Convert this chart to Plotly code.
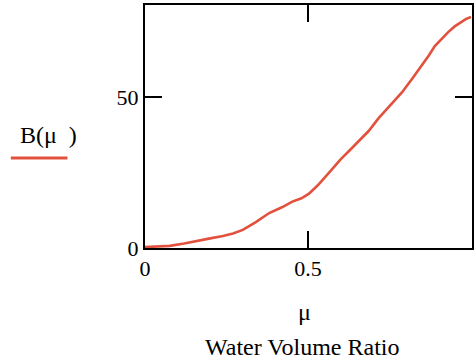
import plotly.graph_objects as go

# Water volume ratio (mu) and the resulting B(mu)
mu = [0, 0.03, 0.076, 0.12, 0.158, 0.2, 0.239, 0.27, 0.30, 0.34, 0.381, 0.42,
      0.452, 0.48, 0.503, 0.53, 0.564, 0.6, 0.625, 0.66, 0.686, 0.716, 0.75,
      0.788, 0.82, 0.849, 0.87, 0.889, 0.91, 0.93, 0.95, 0.97, 0.985, 1.0]
B = [0.3, 0.4, 0.7, 1.5, 2.4, 3.2, 4.0, 4.8, 6.0, 8.6, 11.6, 13.5,
     15.4, 16.5, 18.0, 20.8, 24.9, 29.4, 32.1, 36.0, 38.8, 43.0, 47.2,
     51.6, 56.2, 60.4, 63.8, 67.0, 69.4, 71.6, 73.5, 75.0, 76.0, 76.6]

x_ticks = [0, 0.5, 1]
x_tick_text = ["0", "0.5", "1"]
y_ticks = [0, 50]
y_tick_text = ["0", "50"]

RED = "#e2513e"
FONT = "Liberation Serif"

W, H = 475, 360
L, R, T, Bm = 145, 1, 5, 112
pw, ph = W - L - R, H - T - Bm


def px(xp):
    return (xp - L) / pw


def py(yp):
    return (H - Bm - yp) / ph


fig = go.Figure()
fig.add_trace(go.Scatter(x=mu, y=B, mode="lines",
                         line=dict(color=RED, width=2.6), showlegend=False))

axis_common = dict(showline=True, linecolor="black", linewidth=2, mirror="ticks",
                   ticks="inside", ticklen=17, tickwidth=2, tickcolor="black",
                   showgrid=False, zeroline=False,
                   tickfont=dict(family=FONT, size=22, color="black"))

fig.update_xaxes(range=[0, 1.003], tickvals=x_ticks, ticktext=x_tick_text, **axis_common)
fig.update_yaxes(range=[0, 80.6], tickvals=y_ticks, ticktext=y_tick_text, **axis_common)

label_font = dict(family=FONT, size=24, color="black")
fig.add_annotation(text="μ", x=px(305), y=py(312), xref="paper", yref="paper",
                   xanchor="center", yanchor="middle", showarrow=False, font=label_font)
fig.add_annotation(text="Water Volume Ratio", x=px(303), y=py(347), xref="paper",
                   yref="paper", xanchor="center", yanchor="middle", showarrow=False,
                   font=label_font)
fig.add_annotation(text="B(μ  )", x=px(48), y=py(135), xref="paper", yref="paper",
                   xanchor="center", yanchor="middle", showarrow=False, font=label_font)
fig.add_shape(type="line", xref="paper", yref="paper",
              x0=px(10), x1=px(67), y0=py(158), y1=py(158),
              line=dict(color=RED, width=3))

fig.update_layout(width=W, height=H, margin=dict(l=L, r=R, t=T, b=Bm),
                  paper_bgcolor="white", plot_bgcolor="white",
                  font=dict(family=FONT, color="black"))

fig.write_html("out.html")
